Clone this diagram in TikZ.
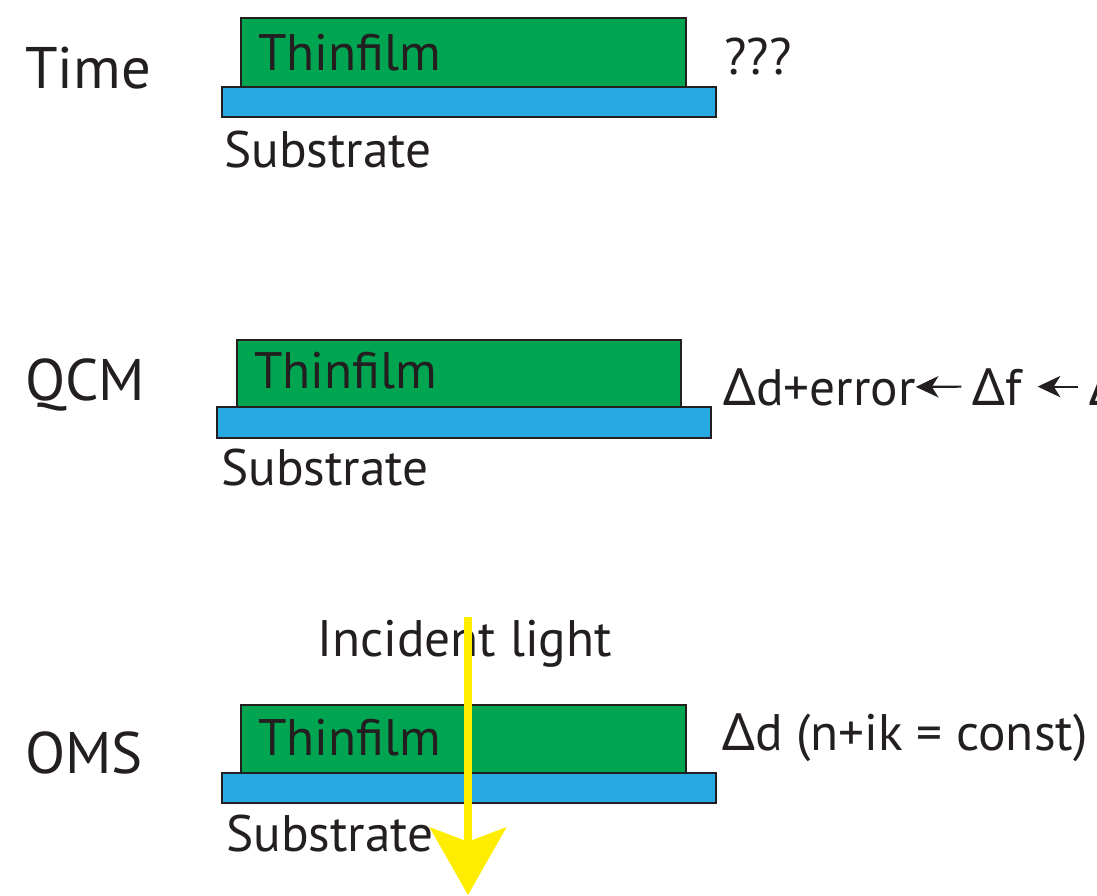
\documentclass[tikz,border=0pt]{standalone}
\usepackage{fontspec}
\setmainfont{PT Sans}
\newfontfamily\grk{Noto Sans}
\usetikzlibrary{arrows.meta}
\definecolor{filmc}{RGB}{0,165,81}
\definecolor{subsc}{RGB}{39,170,225}
\definecolor{ink}{RGB}{35,31,32}
\definecolor{lightc}{RGB}{255,237,0}
\newcommand{\Dl}{{\grk Δ}}
\begin{document}
\begin{tikzpicture}[x=0.75pt,y=-0.75pt,
  filmbox/.style={draw=ink, line width=1.9pt, fill=filmc},
  subbox/.style={draw=ink, line width=1.9pt, fill=subsc},
  txt/.style={inner sep=0pt, anchor=base west, text=ink, font=\fontsize{38.5}{44}\selectfont},
  lbl/.style={inner sep=0pt, anchor=base west, text=ink, font=\fontsize{44}{50}\selectfont},
  qarrow/.style={-{Stealth[length=17pt,width=16pt,inset=5pt]}, line width=1.6pt, draw=ink},
  lightarrow/.style={-{Stealth[length=51pt,width=58pt,inset=11pt,line width=0pt]}, line width=6pt, draw=lightc, fill=lightc},
]
\useasboundingbox (0,0) rectangle (1097,896);

% ---- Time ----
\node[lbl] (tlabel) at (25,88) {Time};
\draw[subbox] (222,87) rectangle (716,117);
\draw[filmbox] (241,18) rectangle (686,87);
\node[txt] (tfilm) at (258,70) {Thinfilm};
\node[txt] (tsub) at (224,167) {Substrate};
\node[txt] (tq) at (724,74) {???};

% ---- QCM ----
\node[lbl] (qlabel) at (25,400) {QCM};
\draw[subbox] (217,407) rectangle (711,438);
\draw[filmbox] (237,340) rectangle (681,407);
\node[txt] (qfilm) at (254,388) {Thinfilm};
\node[txt] (qsub) at (221,485) {Substrate};
\node[txt] (qa) at (723,405) {\Dl d+error};
\node[txt] (qb) at (972,405) {\Dl f};
\node[txt] (qc) at (1089,405) {\Dl};
\draw[qarrow, shorten <=8pt] (qb.west) -- (qa.east);
\draw[qarrow, shorten <=8pt, shorten >=12pt] (qc.west) -- (qb.east);

% ---- OMS ----
\node[lbl] (olabel) at (25,773) {OMS};
\draw[subbox] (222,773) rectangle (716,803);
\draw[filmbox] (241,705) rectangle (686,773);
\node[txt] (ofilm) at (258,755) {Thinfilm};
\node[txt] (osub) at (226,851) {Substrate};
\node[txt] (oinc) at (317,656) {Incident light};
\node[txt] (oeq) at (722,750) {\Dl d (n+ik = const)};

\coordinate (lighttop) at (468,617);
\coordinate (lighttip) at (468,895);
\draw[lightarrow] (lighttop) -- (lighttip);
\end{tikzpicture}
\end{document}
